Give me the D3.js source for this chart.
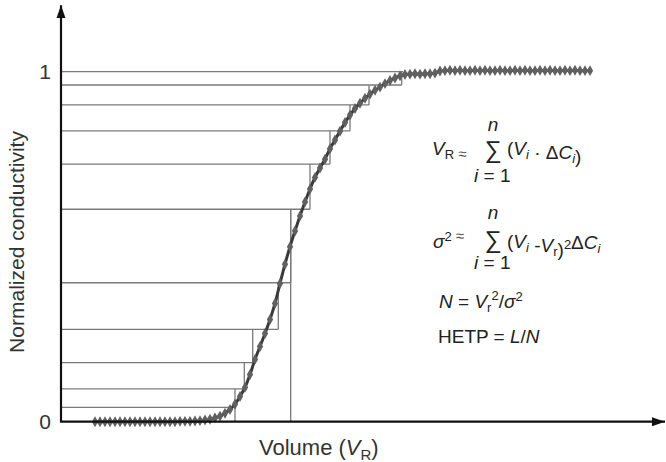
<!DOCTYPE html>
<html>
<head>
<meta charset="utf-8">
<script src="https://cdn.jsdelivr.net/npm/d3@7"></script>
<style>
  html, body { margin: 0; padding: 0; background: #fff; }
  svg { display: block; font-family: "Liberation Sans", Arial, Helvetica, sans-serif; }
</style>
</head>
<body>
<svg id="chart" width="666" height="462"></svg>
<script>
// Breakthrough curve: elution volume vs. normalized conductivity
const curveVolume = [
  3.4, 3.9, 4.4, 4.9, 5.4, 5.9, 6.4, 6.9, 7.4, 7.9,
  8.4, 8.9, 9.4, 9.9, 10.4, 10.9, 11.4, 11.9, 12.4, 12.9,
  13.4, 13.9, 14.4, 14.9, 15.4, 15.9, 16.4, 16.9, 17.4, 17.9,
  18.4, 18.9, 19.4, 19.9, 20.4, 20.9, 21.4, 21.9, 22.4, 22.9,
  23.4, 23.9, 24.4, 24.9, 25.4, 25.9, 26.4, 26.9, 27.4, 27.9,
  28.4, 28.9, 29.4, 29.9, 30.4, 30.9, 31.4, 31.9, 32.4, 32.9,
  33.4, 33.9, 34.4, 34.9, 35.4, 35.9, 36.4, 36.9, 37.4, 37.9,
  38.4, 38.9, 39.4, 39.9, 40.4, 40.9, 41.4, 41.9, 42.4, 42.9,
  43.4, 43.9, 44.4, 44.9, 45.4, 45.9, 46.4, 46.9, 47.4, 47.9,
  48.4, 48.9, 49.4, 49.9, 50.4, 50.9, 51.4, 51.9, 52.4, 52.9
];
const curveConductivity = [
  0, 0, 0, 0, 0, 0, 0, 0, 0, 0,
  0, 0, 0, 0, 0, 0, 0, 0.001, 0.001, 0.001,
  0.002, 0.003, 0.005, 0.007, 0.011, 0.016, 0.024, 0.035, 0.050, 0.072,
  0.098, 0.135, 0.178, 0.215, 0.252, 0.292, 0.338, 0.395, 0.450, 0.500,
  0.545, 0.588, 0.628, 0.665, 0.698, 0.725, 0.750, 0.780, 0.805, 0.830,
  0.855, 0.876, 0.895, 0.910, 0.924, 0.936, 0.947, 0.956, 0.966, 0.975,
  0.982, 0.988, 0.992, 0.993, 0.994, 0.993, 0.994, 0.994, 0.996, 1.002,
  1.003, 1.004, 1.003, 1.004, 1.003, 1.003, 1.004, 1.003, 1.004, 1.003,
  1.003, 1.004, 1.003, 1.003, 1.004, 1.003, 1.004, 1.003, 1.003, 1.004,
  1.003, 1.004, 1.003, 1.003, 1.004, 1.003, 1.004, 1.003, 1.003, 1.003
];

// Discretisation steps (C_i levels and the volume V_i reached at each level)
const stepLevels  = [0.041, 0.094, 0.169, 0.264, 0.397, 0.607, 0.736, 0.831, 0.905, 0.962, 1.0];
const stepVolumes = [17.4, 18.33, 19.17, 21.73, 22.97, 24.9, 26.9, 28.9, 30.8, 34.07, 34.2];

// Retention volume marker
const retentionVolume = 22.97;
const retentionLevel = 0.607;

// Axis extents and ticks
const xAxisEnd = 60.4;
const yAxisTop = 1.19;
const yTicks = [0, 1];
const yTickLabels = ["0", "1"];

const svg = d3.select("#chart");
const x = d3.scaleLinear().domain([0, xAxisEnd]).range([61, 665]);
const y = d3.scaleLinear().domain([0, 1]).range([421.7, 71.7]);

const defs = svg.append("defs");
defs.append("marker")
  .attr("id", "arrow")
  .attr("viewBox", "0 0 10 10")
  .attr("refX", 10).attr("refY", 5)
  .attr("markerWidth", 6).attr("markerHeight", 6)
  .attr("markerUnits", "strokeWidth")
  .attr("orient", "auto")
  .append("path").attr("d", "M0,1.5 L10,5 L0,8.5 Z").attr("fill", "#111");

// Staircase: horizontal at each level, vertical edges joining levels
const stepColor = "#7a7a7a";
const steps = svg.append("g").attr("stroke", stepColor).attr("stroke-width", 1.3).attr("fill", "none");
stepLevels.forEach((c, i) => {
  steps.append("line")
    .attr("x1", x(0)).attr("x2", x(stepVolumes[i]))
    .attr("y1", y(c)).attr("y2", y(c));
  if (i < stepLevels.length - 1) {
    steps.append("line")
      .attr("x1", x(stepVolumes[i])).attr("x2", x(stepVolumes[i]))
      .attr("y1", y(c)).attr("y2", y(stepLevels[i + 1]));
  }
});
steps.append("line")
  .attr("x1", x(stepVolumes[0])).attr("x2", x(stepVolumes[0]))
  .attr("y1", y(0)).attr("y2", y(stepLevels[0]));
steps.append("line")
  .attr("x1", x(retentionVolume)).attr("x2", x(retentionVolume))
  .attr("y1", y(0)).attr("y2", y(retentionLevel));

// Breakthrough curve with beaded markers
const pts = curveVolume.map((v, i) => [v, curveConductivity[i]]);
svg.append("path")
  .datum(pts)
  .attr("fill", "none")
  .attr("stroke", "#3a3a3a")
  .attr("stroke-width", 3)
  .attr("d", d3.line().curve(d3.curveMonotoneX).x(d => x(d[0])).y(d => y(d[1])));
svg.append("g").selectAll("path")
  .data(pts)
  .join("path")
  .attr("transform", d => `translate(${x(d[0])},${y(d[1])})`)
  .attr("d", d3.symbol(d3.symbolDiamond, 34))
  .attr("fill", "#606060");

// Axes
svg.append("line")
  .attr("x1", x(0)).attr("y1", y(0)).attr("x2", x(0)).attr("y2", y(yAxisTop))
  .attr("stroke", "#111").attr("stroke-width", 2.2).attr("marker-end", "url(#arrow)");
svg.append("line")
  .attr("x1", x(0) - 1).attr("y1", y(0)).attr("x2", x(xAxisEnd)).attr("y2", y(0))
  .attr("stroke", "#111").attr("stroke-width", 2.2).attr("marker-end", "url(#arrow)");

const yAxis = svg.append("g")
  .attr("transform", `translate(${x(0)},0)`)
  .call(d3.axisLeft(y).tickValues(yTicks).tickSize(0).tickPadding(10)
    .tickFormat((d, i) => yTickLabels[i]));
yAxis.select(".domain").remove();
yAxis.selectAll("text")
  .attr("font-size", 21).attr("fill", "#333")
  .attr("font-family", "Liberation Sans, Arial, sans-serif");

// Axis titles
svg.append("text")
  .attr("transform", "translate(24,242) rotate(-90)")
  .attr("text-anchor", "middle")
  .attr("font-size", 21).attr("fill", "#333")
  .text("Normalized conductivity");

const xt = svg.append("text")
  .attr("x", 259).attr("y", 455)
  .attr("font-size", 22).attr("fill", "#333");
xt.append("tspan").text("Volume (");
xt.append("tspan").attr("font-style", "italic").text("V");
xt.append("tspan").attr("font-size", 15).attr("dy", 5).text("R");
xt.append("tspan").attr("dy", -5).text(")");

// Formulas
const fcol = "#222";
const fs = 19;
function t(xp, yp, anchor) {
  return svg.append("text").attr("x", xp).attr("y", yp)
    .attr("font-size", fs).attr("fill", fcol).attr("text-anchor", anchor || "start");
}
function it(sel, s) { return sel.append("tspan").attr("font-style", "italic").text(s); }
function rm(sel, s) { return sel.append("tspan").text(s); }
function sub(sel, s, italic) {
  sel.append("tspan").attr("font-size", 13).attr("dy", 4)
    .attr("font-style", italic ? "italic" : "normal").text(s);
  sel.append("tspan").attr("dy", -4).text("");
}
function sup(sel, s) {
  sel.append("tspan").attr("font-size", 13).attr("dy", -7).text(s);
  sel.append("tspan").attr("dy", 7).text("");
}
function approx(sel) {
  sel.append("tspan").attr("font-size", 15).attr("fill", "#555").text(" \u2248");
}

// V_R ≈ Σ (V_i · ΔC_i)
let f = t(432, 155);
it(f, "V"); sub(f, "R", false);
approx(f);
t(493, 131, "middle").attr("font-style", "italic").text("n");
t(493, 158, "middle").attr("font-size", 24).text("\u2211");
f = t(507, 155);
rm(f, "("); it(f, "V"); sub(f, "i", true); rm(f, " \u00B7 \u0394"); it(f, "C"); sub(f, "i", true); rm(f, ")");
f = t(474, 182);
it(f, "i"); rm(f, " = 1");

// σ² ≈ Σ (V_i - V_r)² ΔC_i
f = t(433, 248);
it(f, "\u03C3"); sup(f, "2"); approx(f);
t(493, 219, "middle").attr("font-style", "italic").text("n");
t(493, 248, "middle").attr("font-size", 24).text("\u2211");
f = t(507, 248);
rm(f, "("); it(f, "V"); sub(f, "i", true); rm(f, " -"); it(f, "V"); sub(f, "r", false); rm(f, ")");
sup(f, "2"); rm(f, "\u0394"); it(f, "C"); sub(f, "i", true);
f = t(474, 269);
it(f, "i"); rm(f, " = 1");

// N = V_r² / σ²
f = t(439, 308);
it(f, "N"); rm(f, " = "); it(f, "V");
f.append("tspan").attr("font-size", 13).attr("dy", 4).text("r");
f.append("tspan").attr("font-size", 13).attr("dy", -12).text("2");
f.append("tspan").attr("dy", 8).text("/");
it(f, "\u03C3"); sup(f, "2");

// HETP = L/N
f = t(438, 343);
rm(f, "HETP = "); it(f, "L"); rm(f, "/"); it(f, "N");
</script>
</body>
</html>
